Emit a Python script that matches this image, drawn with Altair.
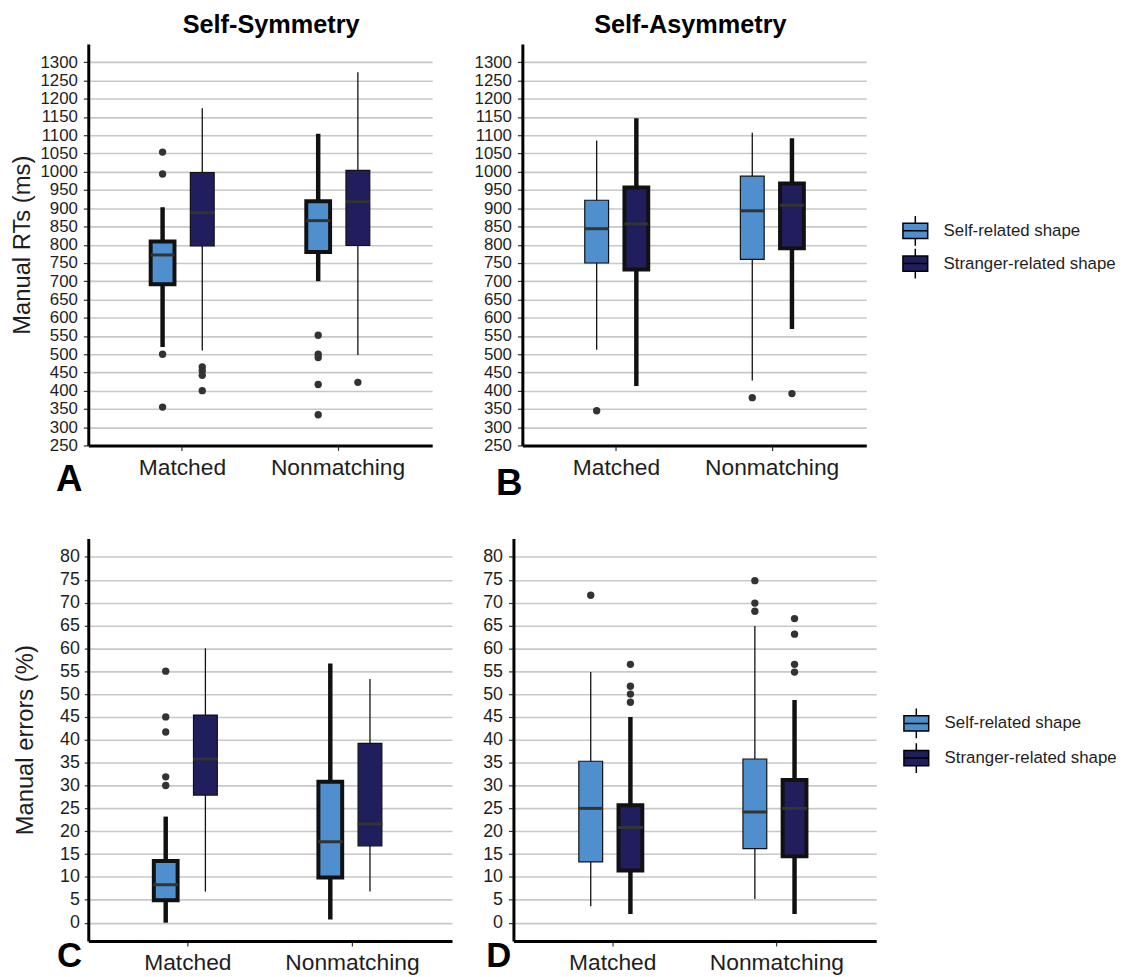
import altair as alt
import pandas as pd

FONT = "Liberation Sans"
TXT = "#1E1E1E"
STROKE = "#111111"

CONDS = ["Matched", "Nonmatching"]
GROUPS = ["Self-related shape", "Stranger-related shape"]
COLORS = ["#4F8FCD", "#201E5C"]
# order of box values: Matched-Self, Matched-Stranger, Nonmatching-Self, Nonmatching-Stranger
KEYS = [(c, g) for c in CONDS for g in GROUPS]

# Panel A: Self-Symmetry, manual RTs (ms)
A_lo = [520, 510, 700, 498]
A_q1 = [692, 797, 780, 798]
A_med = [772, 888, 866, 918]
A_q3 = [809, 998, 919, 1004]
A_hi = [903, 1174, 1104, 1273]
A_out = [[1054, 994, 500, 355], [465, 455, 442, 400], [552, 500, 491, 417, 334], [423]]

# Panel B: Self-Asymmetry, manual RTs (ms)
B_lo = [512, 413, 428, 569]
B_q1 = [750, 732, 760, 790]
B_med = [844, 857, 893, 908]
B_q3 = [922, 957, 988, 968]
B_hi = [1086, 1147, 1107, 1092]
B_out = [[345], [], [381], [392]]

# Panel C: Self-Symmetry, manual errors (%)
C_lo = [0, 6.8, 0.7, 6.8]
C_q1 = [4.9, 27.9, 9.9, 16.8]
C_med = [8.3, 35.8, 17.7, 21.6]
C_q3 = [13.5, 45.4, 30.8, 39.2]
C_hi = [23.2, 60, 56.7, 53.3]
C_out = [[55, 45, 41.7, 31.9, 30], [], [], []]

# Panel D: Self-Asymmetry, manual errors (%)
D_lo = [3.6, 1.9, 5.2, 1.9]
D_q1 = [13.3, 11.4, 16.2, 14.5]
D_med = [25, 20.8, 24.2, 25]
D_q3 = [35.3, 25.7, 35.8, 31.2]
D_hi = [54.8, 45, 64.9, 48.7]
D_out = [[71.6], [56.5, 51.7, 50, 48.2], [74.8, 69.9, 68.1], [66.5, 63.1, 56.5, 54.8]]

BOLD_GROUP = {"A": GROUPS[0], "B": GROUPS[1], "C": GROUPS[0], "D": GROUPS[1]}

RT_TICKS = list(range(250, 1301, 50))
ERR_TICKS = list(range(0, 81, 5))

LEGEND_PATH = "M-1,-0.62H1V0.62H-1Z M-1,0H1 M0,-0.62V-1.2 M0,0.62V1.2"


def panel(key, lo, q1, med, q3, hi, outs, *, width, height, ydomain, yticks,
          ytitle, ylabel_size, ext, tpad, tsize, lpad, box_w,
          letter_x, letter_y, letter_size=37, title=None, title_dx=0, legend=None):
    bold = BOLD_GROUP[key]
    rows = []
    for i, (c, g) in enumerate(KEYS):
        rows.append(dict(cond=c, grp=g, lo=lo[i], q1=q1[i], med=med[i], q3=q3[i], hi=hi[i],
                         sw=4.0 if g == bold else 1.2, wsw=4.5 if g == bold else 1.3))
    df = pd.DataFrame(rows)
    orows = []
    for (c, g), vals in zip(KEYS, outs):
        for v in vals:
            orows.append(dict(cond=c, grp=g, v=v))
    odf = pd.DataFrame(orows)

    xscale = alt.Scale(domain=CONDS, paddingInner=0.49, paddingOuter=0.35)
    xaxis = alt.Axis(title=key, titleFont=FONT, titleFontSize=letter_size, titleFontWeight="bold",
                     titleColor="black", titleAlign="left", titleBaseline="alphabetic",
                     titleAnchor="start", titleX=letter_x, titleY=letter_y,
                     labelAngle=0, labelFont=FONT, labelFontSize=23, labelColor=TXT,
                     labelPadding=6, tickSize=5, tickColor="#333333", tickWidth=1.2,
                     domainColor="black", domainWidth=3, grid=False)
    xoscale = alt.Scale(domain=GROUPS, paddingInner=0.4, paddingOuter=0.2)
    yscale = alt.Scale(domain=ydomain, nice=False, zero=False)
    yaxis = alt.Axis(title=ytitle, values=yticks, format="d", titleFont=FONT, titleFontSize=24,
                     titleFontWeight="normal", titleColor=TXT, titlePadding=tpad,
                     minExtent=ext, maxExtent=ext, labelFont=FONT, labelFontSize=ylabel_size,
                     labelColor=TXT, labelPadding=lpad, tickSize=tsize, tickColor="#333333",
                     tickWidth=1.2, domainColor="black", domainWidth=3, grid=True,
                     gridColor="#C8C8C8", gridWidth=1.6, labelOverlap=False, labelFlush=False)

    def X():
        return alt.X("cond:N", sort=CONDS, scale=xscale, axis=xaxis)

    def XO():
        return alt.XOffset("grp:N", sort=GROUPS, scale=xoscale)

    def Y(f):
        return alt.Y(f, scale=yscale, axis=yaxis)

    whisk = alt.Chart(df).mark_rule(color=STROKE).encode(
        x=X(), xOffset=XO(), y=Y("lo:Q"), y2="hi:Q",
        strokeWidth=alt.StrokeWidth("wsw:Q", scale=None))
    if legend is None:
        col = alt.Color("grp:N", scale=alt.Scale(domain=GROUPS, range=COLORS), legend=None)
    else:
        col = alt.Color("grp:N", scale=alt.Scale(domain=GROUPS, range=COLORS), legend=legend)
    box = alt.Chart(df).mark_bar(stroke=STROKE, opacity=1).encode(
        x=X(), xOffset=XO(), y=Y("q1:Q"), y2="q3:Q", color=col,
        strokeWidth=alt.StrokeWidth("sw:Q", scale=None))
    medl = alt.Chart(df).mark_tick(color="#333333", thickness=3, size=box_w, opacity=1).encode(
        x=X(), xOffset=XO(), y=Y("med:Q"))
    pts = alt.Chart(odf).mark_circle(size=55, color="#333333", opacity=1).encode(
        x=X(), xOffset=XO(), y=Y("v:Q"))
    layer = alt.layer(whisk, box, medl, pts)
    if title is not None:
        layer = layer.properties(width=width, height=height,
                                 title=alt.TitleParams(text=title, font=FONT, fontSize=25.5,
                                                       fontWeight="bold", color="black",
                                                       anchor="middle", frame="group",
                                                       baseline="top", offset=6,
                                                       dx=title_dx))
    else:
        layer = layer.properties(width=width, height=height)
    return layer


def make_legend(lx, ly, rp):
    return alt.Legend(orient="none", legendX=lx, legendY=ly, title=None,
                      symbolType=LEGEND_PATH, symbolSize=625, symbolStrokeColor="black",
                      symbolStrokeWidth=1.5, symbolOpacity=1, labelFont=FONT,
                      labelFontSize=17, labelColor=TXT, labelOffset=15, labelLimit=400,
                      rowPadding=rp, padding=0)


pA = panel("A", A_lo, A_q1, A_med, A_q3, A_hi, A_out, width=347, height=405,
           ydomain=[250, 1350], yticks=RT_TICKS, ytitle="Manual RTs (ms)", ylabel_size=17,
           ext=42, tpad=12, tsize=5, lpad=6, box_w=24, letter_x=-33, letter_y=45,
           title="Self-Symmetry", title_dx=11)
pB = panel("B", B_lo, B_q1, B_med, B_q3, B_hi, B_out, width=347, height=405,
           ydomain=[250, 1350], yticks=RT_TICKS, ytitle=None, ylabel_size=17,
           ext=42, tpad=12, tsize=5, lpad=6, box_w=24, letter_x=-27, letter_y=50,
           title="Self-Asymmetry", title_dx=-4, legend=make_legend(383, 175, -4))
pC = panel("C", C_lo, C_q1, C_med, C_q3, C_hi, C_out, width=367, height=406,
           ydomain=[-4, 84], yticks=ERR_TICKS, ytitle="Manual errors (%)", ylabel_size=18,
           ext=40, tpad=11, tsize=4, lpad=5, box_w=25, letter_x=-32, letter_y=26,
           letter_size=35)
pD = panel("D", D_lo, D_q1, D_med, D_q3, D_hi, D_out, width=366, height=406,
           ydomain=[-4, 84], yticks=ERR_TICKS, ytitle=None, ylabel_size=18,
           ext=40, tpad=11, tsize=5, lpad=6, box_w=25, letter_x=-28, letter_y=26,
           letter_size=35, legend=make_legend(393, 173, -2))

row1 = alt.hconcat(pA, pB, spacing=42).resolve_scale(color="independent")
row2 = alt.hconcat(pC, pD, spacing=22).resolve_scale(color="independent")
chart = (alt.vconcat(row1, row2, spacing=37)
         .resolve_scale(color="independent")
         .properties(padding={"left": 3, "top": 0, "right": 0, "bottom": 0}, background="white")
         .configure(font=FONT)
         .configure_view(stroke=None))

chart.save("out.html", embed_options={"renderer": "svg", "actions": False})
